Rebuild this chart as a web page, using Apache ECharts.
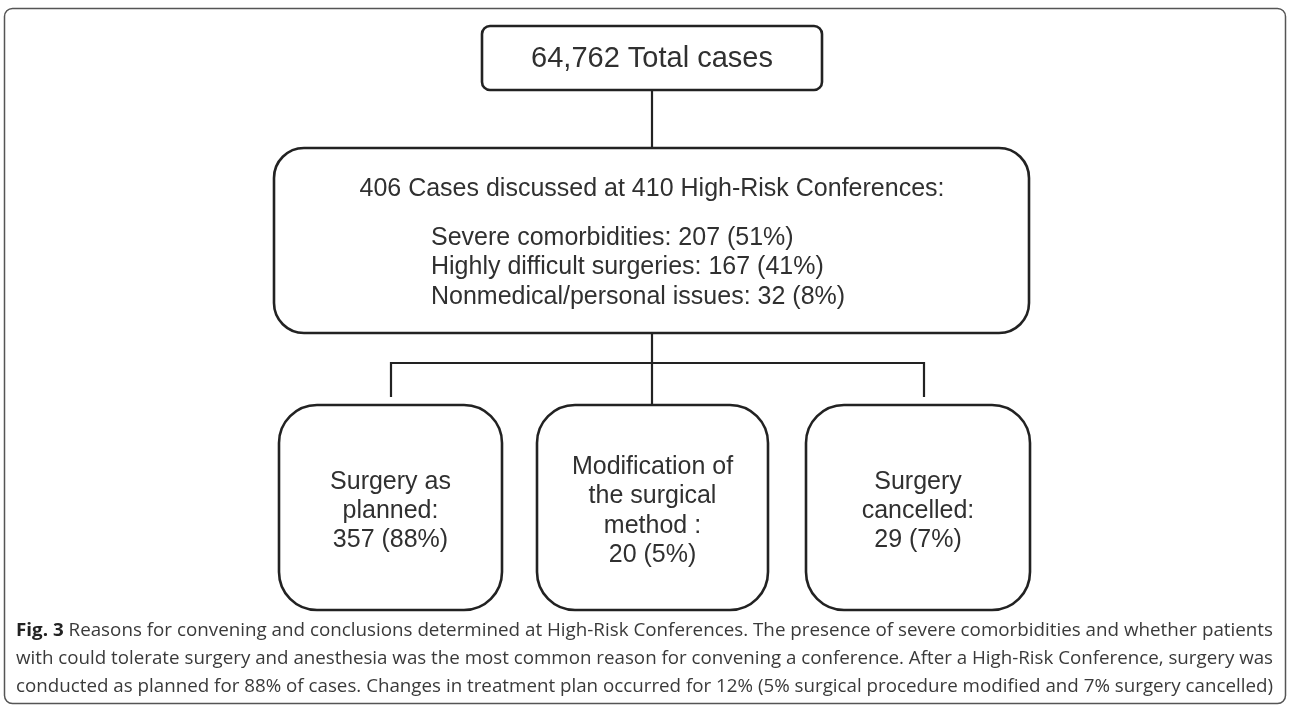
<!DOCTYPE html>
<html><head><meta charset="utf-8">
<script src="https://cdn.jsdelivr.net/npm/echarts@6/dist/echarts.min.js"></script>
<style>html,body{margin:0;padding:0;background:#fff}#c{width:1290px;height:708px}</style>
</head><body><div id="c"></div><script>
// ---- data ----
const totalCases = '64,762';
const casesDiscussed = 406;
const conferencesHeld = 410;
const reasonLabels = ['Severe comorbidities', 'Highly difficult surgeries', 'Nonmedical/personal issues'];
const reasonCounts = [207, 167, 32];
const reasonPcts = [51, 41, 8];
const outcomeLabels = [['Surgery as', 'planned:'], ['Modification of', 'the surgical', 'method :'], ['Surgery', 'cancelled:']];
const outcomeCounts = [357, 20, 29];
const outcomePcts = [88, 5, 7];
const captionBold = 'Fig. 3';
const captionLines = [
  ' Reasons for convening and conclusions determined at High-Risk Conferences. The presence of severe comorbidities and whether patients',
  'with could tolerate surgery and anesthesia was the most common reason for convening a conference. After a High-Risk Conference, surgery was',
  'conducted as planned for 88% of cases. Changes in treatment plan occurred for 12% (5% surgical procedure modified and 7% surgery cancelled)'
];

// ---- layout ----
const FONT = '"Liberation Sans", Arial, sans-serif';
const CAP_FONT = '"Open Sans", sans-serif';
const INK = '#222';
const TEXT = '#303030';
const topBox = {x: 482, y: 26, w: 340, h: 64, r: 8};
const midBox = {x: 274, y: 148, w: 755, h: 185, r: 30};
const botBoxes = [{x: 279, w: 223}, {x: 537, w: 231}, {x: 806, w: 224}];
const botY = 405, botH = 205, botR = 38;
const branchY = 363, branchXs = [391, 924];
const capX = 16, capW = 1257, capYs = [631, 659, 687], capSize = 18;

const ctx = document.createElement('canvas').getContext('2d');
function measure(font, s) { ctx.font = font; return ctx.measureText(s).width; }

const g = [];
// outer frame
g.push({type: 'rect', shape: {x: 4.5, y: 8.5, width: 1281, height: 695, r: 8}, style: {fill: '#fff', stroke: '#555', lineWidth: 1.5}, z: 0});
function box(b, z) {
  g.push({type: 'rect', shape: {x: b.x, y: b.y, width: b.w, height: b.h, r: b.r}, style: {fill: '#fff', stroke: INK, lineWidth: 2.6}, z: z || 2});
}
function line(pts) {
  g.push({type: 'polyline', shape: {points: pts}, style: {stroke: INK, lineWidth: 2.2, fill: null}, z: 1});
}
function text(x, y, s, size, align, lh) {
  g.push({type: 'text', x: x, y: y, z: 5, style: {text: s, fontSize: size, fontFamily: FONT, fill: TEXT,
    align: align || 'center', textAlign: align || 'center', verticalAlign: 'middle', textVerticalAlign: 'middle', lineHeight: lh || size * 1.2}});
}
// connectors
const cx = topBox.x + topBox.w / 2;
line([[cx, topBox.y + topBox.h], [cx, midBox.y]]);
line([[cx, midBox.y + midBox.h], [cx, botY]]);
line([[branchXs[0], botY - 8], [branchXs[0], branchY], [branchXs[1], branchY], [branchXs[1], botY - 8]]);

box(topBox);
text(cx, topBox.y + topBox.h / 2 + 1, totalCases + ' Total cases', 29);

box(midBox);
text(cx, 189, casesDiscussed + ' Cases discussed at ' + conferencesHeld + ' High-Risk Conferences:', 25);
reasonLabels.forEach((l, i) => {
  text(431, 238 + i * 29.5, l + ': ' + reasonCounts[i] + ' (' + reasonPcts[i] + '%)', 25, 'left');
});

botBoxes.forEach((b, i) => {
  box({x: b.x, y: botY, w: b.w, h: botH, r: botR});
  const lines = outcomeLabels[i].concat([outcomeCounts[i] + ' (' + outcomePcts[i] + '%)']);
  text(b.x + b.w / 2, 511, lines.join('\n'), 25, 'center', 29.3);
});

// caption
captionLines.forEach((l, i) => {
  const norm = capSize + 'px ' + CAP_FONT;
  let w = measure(norm, l);
  let s;
  if (i === 0) {
    w += measure('bold ' + norm, captionBold);
    s = '{b|' + captionBold + '}{n|' + l + '}';
  } else {
    s = '{n|' + l + '}';
  }
  g.push({type: 'text', x: capX, y: capYs[i], scaleX: capW / w, z: 5,
    style: {text: s, align: 'left', textAlign: 'left', verticalAlign: 'middle', textVerticalAlign: 'middle',
      rich: {b: {fontSize: capSize, fontFamily: CAP_FONT, fontWeight: 'bold', fill: '#222'},
             n: {fontSize: capSize, fontFamily: CAP_FONT, fill: '#3a3a3a'}}}});
});

const chart = echarts.init(document.getElementById('c'), null, {renderer: 'canvas'});
chart.setOption({animation: false, backgroundColor: '#fff', graphic: {elements: g}});
</script></body></html>
